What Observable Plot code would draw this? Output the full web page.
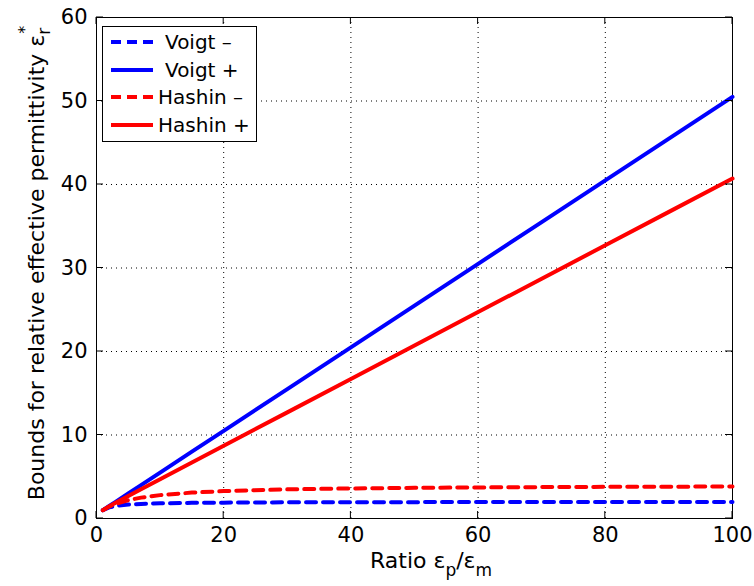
<!DOCTYPE html>
<html><head><meta charset="utf-8">
<script src="https://cdn.jsdelivr.net/npm/d3@7"></script>
<script src="https://cdn.jsdelivr.net/npm/@observablehq/plot@0.6"></script>
<style>
body{margin:0;background:#fff;}
</style>
</head><body><div id="chart"></div>
<script>
const ratio = [1, 2, 3, 5, 7, 10, 15, 20, 30, 40, 50, 60, 70, 80, 90, 100];
const voigtLower  = [1, 1.33, 1.5, 1.67, 1.75, 1.82, 1.875, 1.9, 1.94, 1.95, 1.96, 1.97, 1.97, 1.98, 1.98, 1.98];
const voigtUpper  = [1, 1.5, 2, 3, 4, 5.5, 8, 10.5, 15.5, 20.5, 25.5, 30.5, 35.5, 40.5, 45.5, 50.5];
const hashinLower = [1, 1.43, 1.75, 2.2, 2.5, 2.8, 3.1, 3.28, 3.49, 3.6, 3.67, 3.72, 3.76, 3.79, 3.81, 3.83];
const hashinUpper = [1, 1.45, 1.88, 2.69, 3.5, 4.71, 6.71, 8.71, 12.71, 16.71, 20.72, 24.72, 28.72, 32.72, 36.72, 40.72];
const seriesNames = ["Voigt \u2013", "Voigt +", "Hashin \u2013", "Hashin +"];
const seriesColors = ["#0000ff", "#0000ff", "#ff0000", "#ff0000"];
const seriesDashed = [true, false, true, false];
const xTicks = [0, 20, 40, 60, 80, 100];
const yTicks = [0, 10, 20, 30, 40, 50, 60];

const FONT = '"DejaVu Sans",Verdana,sans-serif';
const allSeries = [voigtLower, voigtUpper, hashinLower, hashinUpper];
const rows = [];
allSeries.forEach((vals, s) => vals.forEach((v, i) => rows.push({series: seriesNames[s], x: ratio[i], y: v})));

const marks = [
  Plot.gridX(xTicks.slice(1, -1), {stroke: "#000", strokeOpacity: 1, strokeWidth: 1, strokeDasharray: "1,4"}),
  Plot.gridY(yTicks.slice(1, -1), {stroke: "#000", strokeOpacity: 1, strokeWidth: 1, strokeDasharray: "1,4"}),
  Plot.axisX(xTicks, {anchor: "bottom", tickSize: 0, tickPadding: 9, fontSize: 21, label: null}),
  Plot.axisY(yTicks, {anchor: "left", tickSize: 0, tickPadding: 9, fontSize: 21, label: null}),
  Plot.frame({stroke: "#000", strokeWidth: 1})
];
seriesNames.forEach((name, s) => {
  marks.push(Plot.line(rows.filter(d => d.series === name), {
    x: "x", y: "y", stroke: seriesColors[s], strokeWidth: 4,
    strokeDasharray: seriesDashed[s] ? "10,7" : null
  }));
});

const plot = Plot.plot({
  width: 754, height: 586,
  marginLeft: 96, marginRight: 22, marginTop: 17, marginBottom: 68,
  style: {fontFamily: FONT, color: "#000", background: "#fff"},
  x: {domain: [0, 100]},
  y: {domain: [0, 60]},
  marks
});
document.getElementById("chart").appendChild(plot);

const svg = d3.select(plot);
const xs = plot.scale("x"), ys = plot.scale("y");
const X = v => xs.apply(v), Y = v => ys.apply(v);
const x0 = X(0), x1 = X(100), y0 = Y(0), y1 = Y(60);
const tk = svg.append("g").attr("stroke", "#000").attr("stroke-width", 1);
xTicks.forEach(t => {
  tk.append("line").attr("x1", X(t)).attr("x2", X(t)).attr("y1", y0).attr("y2", y0 - 7);
  tk.append("line").attr("x1", X(t)).attr("x2", X(t)).attr("y1", y1).attr("y2", y1 + 7);
});
yTicks.forEach(t => {
  tk.append("line").attr("y1", Y(t)).attr("y2", Y(t)).attr("x1", x0).attr("x2", x0 + 7);
  tk.append("line").attr("y1", Y(t)).attr("y2", Y(t)).attr("x1", x1).attr("x2", x1 - 7);
});

// x label
const xl = svg.append("text").attr("x", 370).attr("y", 568).attr("text-anchor", "start")
  .attr("font-family", FONT).attr("font-size", 22).attr("fill", "#000");
xl.append("tspan").text("Ratio \u03b5");
xl.append("tspan").attr("dy", 8).attr("font-size", 17).text("p");
xl.append("tspan").attr("dy", -8).text("/\u03b5");
xl.append("tspan").attr("dy", 8).attr("font-size", 17).text("m");

// y label
const yl = svg.append("text").attr("transform", `translate(44,263) rotate(-90)`)
  .attr("text-anchor", "middle").attr("font-family", FONT).attr("font-size", 22).attr("fill", "#000");
yl.append("tspan").text("Bounds for relative effective permittivity \u03b5");
yl.append("tspan").attr("dy", -14).attr("dx", 1).attr("font-size", 16).text("*");
yl.append("tspan").attr("dy", 20).attr("dx", -9).attr("font-size", 17).text("r");

// legend
const lg = svg.append("g");
lg.append("rect").attr("x", 102.5).attr("y", 26.5).attr("width", 154).attr("height", 115)
  .attr("fill", "#fff").attr("stroke", "#000").attr("stroke-width", 1);
const rowY = [42, 70, 97, 125];
const textX = [165, 165, 158, 158];
seriesNames.forEach((name, s) => {
  lg.append("line").attr("x1", 111).attr("x2", 153).attr("y1", rowY[s]).attr("y2", rowY[s])
    .attr("stroke", seriesColors[s]).attr("stroke-width", 4)
    .attr("stroke-dasharray", seriesDashed[s] ? "10,6" : null);
  lg.append("text").attr("x", textX[s]).attr("y", rowY[s] + 7).attr("font-size", 20)
    .attr("font-family", FONT).attr("text-anchor", "start")
    .attr("fill", "#000").text(name);
});
</script></body></html>
